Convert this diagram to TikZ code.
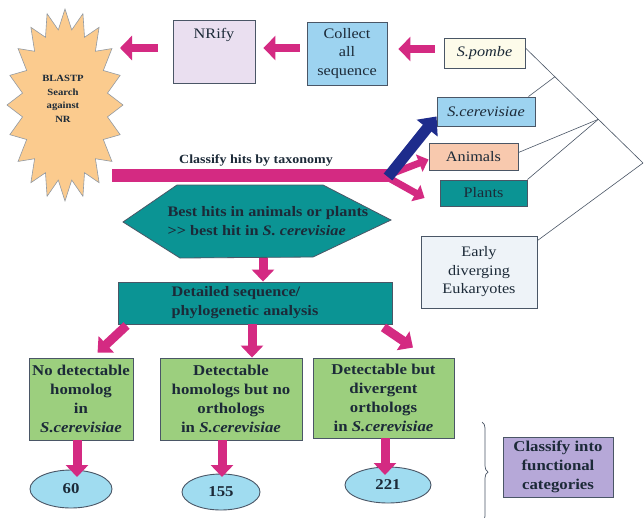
\documentclass[tikz,border=0pt]{standalone}
\usepackage{fontspec}
\setmainfont{Liberation Serif}[FakeStretch=1.12]
\usetikzlibrary{arrows.meta,decorations.pathreplacing,calc,shapes.geometric}
\definecolor{pinkA}{HTML}{D42A82}
\definecolor{navyA}{HTML}{1E2C8C}
\definecolor{tealA}{HTML}{0B9494}
\definecolor{greenA}{HTML}{9CCF7E}
\definecolor{blueA}{HTML}{9DD3F0}
\definecolor{ellA}{HTML}{A0DCF0}
\definecolor{lavA}{HTML}{EADFF0}
\definecolor{lavB}{HTML}{B6A8D8}
\definecolor{peachA}{HTML}{FBCB8E}
\definecolor{creamA}{HTML}{FDFBEA}
\definecolor{salmonA}{HTML}{F8C9AE}
\definecolor{paleA}{HTML}{EEF3F8}
\definecolor{edgeA}{HTML}{4A5666}
\definecolor{txtA}{HTML}{1C2A38}
\begin{document}
\begin{tikzpicture}[x=1pt,y=-1pt,
 box/.style={draw=edgeA, line width=0.9pt, inner sep=0pt, align=center, text=txtA},
 fr/.style={font=\fontsize{14.5}{18.5}\selectfont, text=txtA, align=center},
 fb/.style={font=\fontsize{15}{19}\selectfont\bfseries, text=txtA, align=center},
 parr/.style={pinkA, line width=8pt, -{Triangle[width=24pt,length=12pt]}},
 darr/.style={pinkA, line width=9pt, -{Triangle[width=22pt,length=12pt]}},
 tree/.style={draw=edgeA, line width=0.6pt},
]
\useasboundingbox (0,0) rectangle (644,517);
\fill[white] (0,0) rectangle (644,517);

% starburst
\filldraw[fill=peachA, draw=edgeA!60, line width=0.6pt]
  plot[samples=40, domain=0:39, variable=\i]
  ({65+(mod(round(\i),2)==0 ? 58 : 43)*cos(\i*9)}, {105+(mod(round(\i),2)==0 ? 96 : 76)*sin(\i*9)}) -- cycle;
\node[font=\fontsize{9.5}{13.5}\selectfont\bfseries, align=center, text=txtA] (blast) at (63,99) {BLASTP\\Search\\against\\NR};
\coordinate (blastin) at (120,48);

% top row
\node[box, fill=lavA, minimum width=82pt, minimum height=63pt] (nrify) at (214,51.5) {};
\node[fr] (nrifyT) at ([yshift=-15pt]nrify.north) {NRify};
\node[box, fr, fill=blueA, minimum width=80pt, minimum height=63pt] (collect) at (347,53.5) {Collect\\all\\sequence};
\node[box, fr, fill=creamA, minimum width=81pt, minimum height=30pt] (pombe) at (484.5,53) {\textit{S.pombe}};
\node[box, fr, fill=blueA, minimum width=98pt, minimum height=29pt] (scer) at (486,111.5) {\textit{S.cerevisiae}};
\node[box, fr, fill=salmonA, minimum width=89pt, minimum height=27pt] (animals) at (473.5,156.5) {Animals};
\node[box, fr, fill=tealA, minimum width=87pt, minimum height=26pt] (plants) at (483.5,193) {Plants};
\node[box, fr, fill=paleA, minimum width=116pt, minimum height=72pt] (early) at (479,272) {Early\\diverging\\Eukaryotes};

% tree
\coordinate (root) at (643,163);
\coordinate (P) at ([yshift=5pt]pombe.east);
\coordinate (J1) at ($(P)!0.25!(root)$);
\coordinate (J2) at ($(P)!0.62!(root)$);
\draw[tree] (P) -- (root);
\draw[tree] ([xshift=-7pt]scer.north east) -- (J1);
\draw[tree] ([yshift=4pt]animals.east) -- (J2);
\draw[tree] (plants.north east) -- (J2);
\draw[tree] ([yshift=-5pt]early.north east) -- (root);

% top arrows
\draw[parr] ([xshift=-9pt]pombe.west |- 0,49) -- ([xshift=11pt]collect.east |- 0,49);
\draw[parr] ([xshift=-7pt]collect.west |- 0,48) -- ([xshift=8pt]nrify.east |- 0,48);
\draw[parr] ([xshift=-15pt]nrify.west |- 0,48) -- (blastin);

% classify bar and branches
\coordinate (classL) at (112,175);
\coordinate (hub) at (390,175);
\node[font=\fontsize{12.5}{13}\selectfont\bfseries, text=txtA] (classT) at (256,160) {Classify hits by taxonomy};
\draw[pinkA, line width=13pt] (classL) -- (hub);
\draw[pinkA, line width=7pt, -{Triangle[width=18pt,length=10pt]}] ([xshift=-2pt]hub) -- ([yshift=-3pt]animals.west);
\draw[pinkA, line width=7pt, -{Triangle[width=18pt,length=10pt]}] ([xshift=-3pt,yshift=-2pt]hub) -- ([xshift=-15pt,yshift=-5pt]plants.west);
\draw[navyA, line width=11pt, -{Triangle[width=26pt,length=15pt]}] ([xshift=-2pt,yshift=-2pt]hub) -- ([yshift=10pt]scer.south west);

% hexagon
\filldraw[fill=tealA, draw=edgeA, line width=0.8pt] (123,222) -- (177,185) -- (323,185) -- (391,220) -- (313,257) -- (180,258) -- cycle;
\node[font=\fontsize{14.5}{19}\selectfont\bfseries, text=txtA, align=left, anchor=west] (hex) at (164,221) {Best hits in animals or plants\\>{}> best hit in \textit{S. cerevisiae}};
\coordinate (hexB) at (263,258);

% detailed
\node[box, fill=tealA, minimum width=274pt, minimum height=42pt] (detailed) at (255,303) {};
\node[font=\fontsize{14.5}{19}\selectfont\bfseries, text=txtA, align=left] (detT) at (245,303) {Detailed sequence/\\phylogenetic analysis};
\draw[darr] (hexB) -- (hexB |- detailed.north);

% green boxes
\node[box, fb, fill=greenA, minimum width=104pt, minimum height=82pt] (green1) at (81,399) {No detectable\\homolog\\in\\\textit{S.cerevisiae}};
\node[box, fb, fill=greenA, minimum width=142pt, minimum height=82pt] (green2) at (231,399) {Detectable\\homologs but no\\orthologs\\in \textit{S.cerevisiae}};
\node[box, fb, fill=greenA, minimum width=141pt, minimum height=80pt] (green3) at (383.5,398) {Detectable but\\divergent\\orthologs\\in \textit{S.cerevisiae}};

\draw[darr] ([xshift=9pt,yshift=-1pt]detailed.south west) -- ([xshift=69pt,yshift=5pt]green1.north west);
\draw[darr] ([xshift=21pt]green2.north |- detailed.south) -- ([xshift=21pt]green2.north);
\draw[darr] ([xshift=-9pt,yshift=-3pt]detailed.south east) -- ([xshift=29.5pt,yshift=10pt]green3.north);

% ellipses
\node[box, fb, ellipse, fill=ellA, minimum width=82pt, minimum height=38pt] (e1) at (71,489) {60};
\node[box, fb, ellipse, fill=ellA, minimum width=78pt, minimum height=36pt] (e2) at (221,492) {155};
\node[box, fb, ellipse, fill=ellA, minimum width=86pt, minimum height=36pt] (e3) at (388,485) {221};

\draw[darr] ([xshift=-4pt]green1.south) -- ([xshift=-4pt]green1.south |- 0,477);
\draw[darr] ([xshift=-9pt]green2.south) -- ([xshift=-9pt]green2.south |- 0,477);
\draw[darr] ([xshift=1.5pt]green3.south) -- ([xshift=1.5pt]green3.south |- 0,475);

% brace and classify box
\draw[edgeA, line width=0.7pt, decorate, decoration={brace, amplitude=6pt}] (482,422) -- (482,522);
\node[box, fb, fill=lavB, minimum width=110pt, minimum height=60pt] (func) at (558,467) {\raisebox{-3pt}{\parbox{106pt}{\centering Classify into\\functional\\categories}}};
\end{tikzpicture}
\end{document}
